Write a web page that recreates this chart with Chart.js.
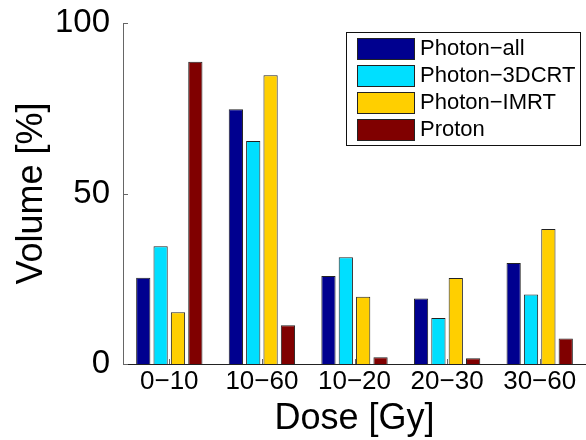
<!DOCTYPE html>
<html>
<head>
<meta charset="utf-8">
<script src="https://cdn.jsdelivr.net/npm/chart.js@4"></script>
<style>
  body { margin: 0; background: #fff; }
  #wrap { width: 586px; height: 440px; position: relative; }
</style>
</head>
<body>
<div id="wrap"><canvas id="chart"></canvas></div>
<script>
const doseBins = ["0\u221210", "10\u221260", "10\u221220", "20\u221230", "30\u221260"];
const photonAll = [25.3, 74.7, 25.8, 19.2, 29.6];
const photon3DCRT = [34.5, 65.4, 31.3, 13.5, 20.4];
const photonIMRT = [15.2, 84.7, 19.7, 25.2, 39.6];
const proton = [88.6, 11.4, 2.0, 1.7, 7.5];
const yTicks = [0, 50, 100];

const FONT = "'Liberation Sans', Arial, sans-serif";

// matlab-like inward tick marks + legend box drawn on top of the plot
const extras = {
    id: 'extras',
    afterDraw(chart) {
        const ctx = chart.ctx;
        const x = chart.scales.x, y = chart.scales.y;
        const area = chart.chartArea;
        ctx.save();
        ctx.strokeStyle = '#666';
        ctx.lineWidth = 1;
        yTicks.forEach(v => {
            const py = Math.round(y.getPixelForValue(v)) + 0.5;
            ctx.beginPath();
            ctx.moveTo(area.left, py);
            ctx.lineTo(area.left + 5, py);
            ctx.stroke();
        });
        doseBins.forEach((b, i) => {
            const px = Math.round(x.getPixelForValue(i)) + 0.5;
            ctx.beginPath();
            ctx.moveTo(px, area.bottom);
            ctx.lineTo(px, area.bottom - 5);
            ctx.stroke();
        });

        // legend
        const lx = 346, ly = 32, lw = 234, lh = 113;
        ctx.fillStyle = '#fff';
        ctx.fillRect(lx, ly, lw, lh);
        ctx.strokeStyle = '#111';
        ctx.strokeRect(lx + 0.5, ly + 0.5, lw, lh);
        ctx.font = '22px ' + FONT;
        ctx.textBaseline = 'middle';
        chart.data.datasets.forEach((ds, i) => {
            const sy = 38 + i * 27;
            ctx.fillStyle = ds.backgroundColor;
            ctx.fillRect(357, sy, 57, 21);
            ctx.strokeStyle = '#222';
            ctx.strokeRect(357.5, sy + 0.5, 57, 21);
            ctx.fillStyle = '#000';
            ctx.fillText(ds.label, 420, sy + 11);
        });
        ctx.restore();
    }
};

const ds = (label, data, color) => ({
    label: label,
    data: data,
    backgroundColor: color,
    borderColor: '#222',
    borderWidth: 1,
    borderSkipped: 'bottom',
    categoryPercentage: 0.75,
    barPercentage: 0.82
});

new Chart(document.getElementById('chart'), {
    type: 'bar',
    data: {
        labels: doseBins,
        datasets: [
            ds("Photon\u2212all", photonAll, '#00008F'),
            ds("Photon\u22123DCRT", photon3DCRT, '#00DFFF'),
            ds("Photon\u2212IMRT", photonIMRT, '#FFCF00'),
            ds("Proton", proton, '#800000')
        ]
    },
    options: {
        responsive: true,
        maintainAspectRatio: false,
        devicePixelRatio: 1,
        animation: false,
        layout: { padding: { top: 23, left: 0, right: 0, bottom: 0 } },
        plugins: {
            legend: { display: false },
            tooltip: { enabled: false }
        },
        scales: {
            x: {
                grid: { display: false },
                border: { display: true, color: '#222', width: 1 },
                ticks: { color: '#000', font: { family: FONT, size: 26 }, padding: -6 },
                title: {
                    display: true, text: 'Dose [Gy]', color: '#000',
                    font: { family: FONT, size: 36 }, padding: { top: 0, bottom: -1 }
                },
                afterFit(scale) { scale.height = 76; }
            },
            y: {
                min: 0, max: 100,
                afterBuildTicks(scale) { scale.ticks = yTicks.map(v => ({ value: v })); },
                grid: { display: false },
                border: { display: true, color: '#666', width: 1 },
                ticks: { color: '#000', font: { family: FONT, size: 33, lineHeight: 1 }, padding: 5 },
                title: {
                    display: true, text: 'Volume [%]', color: '#000',
                    font: { family: FONT, size: 36 }, padding: { top: 10, bottom: 0 }
                },
                afterFit(scale) { scale.width = 123; }
            }
        }
    },
    plugins: [extras]
});
</script>
</body>
</html>
